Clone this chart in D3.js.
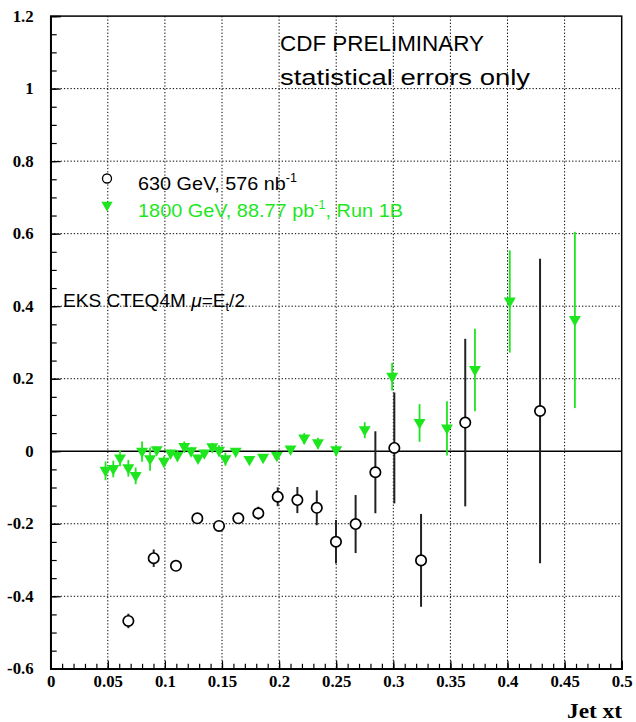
<!DOCTYPE html>
<html><head><meta charset="utf-8">
<script src="https://cdn.jsdelivr.net/npm/d3@7"></script>
<style>body{margin:0;background:#fff}svg{display:block}</style>
</head><body>
<script>
// 630 GeV, 576 nb^-1
const xt630 = [0.068,0.0902,0.1097,0.1284,0.1474,0.1643,0.1818,0.1988,0.216,0.233,0.2498,0.267,0.2843,0.3009,0.3243,0.3630,0.4285];
const val630 = [-0.468,-0.295,-0.316,-0.185,-0.206,-0.185,-0.171,-0.1255,-0.1346,-0.156,-0.2496,-0.2008,-0.058,0.009,-0.301,0.079,0.111];
const err630 = [0.02,0.024,0.01,0.012,0.01,0.01,0.018,0.026,0.036,0.048,0.06,0.08,0.113,0.153,0.128,0.231,0.42];
// 1800 GeV, 88.77 pb^-1, Run 1B
const xt1800 = [0.048,0.0548,0.0607,0.068,0.0744,0.080,0.087,0.0928,0.0992,0.105,0.111,0.117,0.1229,0.129,0.1345,0.1415,0.1474,0.153,0.162,0.174,0.186,0.198,0.210,0.222,0.234,0.250,0.275,0.299,0.323,0.347,0.3715,0.402,0.459];
const val1800 = [-0.054,-0.049,-0.0196,-0.047,-0.068,-0.001,-0.022,0.003,-0.029,-0.006,-0.013,0.012,0.000,-0.020,-0.006,0.011,0.0014,-0.022,-0.001,-0.024,-0.018,-0.013,0.005,0.035,0.022,0.003,0.058,0.2055,0.078,0.063,0.224,0.413,0.362];
const err1800 = [0.026,0.023,0.022,0.023,0.023,0.028,0.032,0.01,0.015,0.01,0.015,0.015,0.01,0.01,0.01,0.012,0.015,0.018,0.01,0.01,0.01,0.012,0.01,0.015,0.015,0.015,0.022,0.038,0.052,0.075,0.114,0.141,0.243];
const xTicks = [0,0.05,0.1,0.15,0.2,0.25,0.3,0.35,0.4,0.45,0.5];
const yTicks = [-0.6,-0.4,-0.2,0,0.2,0.4,0.6,0.8,1,1.2];
const xGrid = [0.05,0.1,0.15,0.2,0.25,0.3,0.35,0.4,0.45];
const yGrid = [-0.4,-0.2,0.2,0.4,0.6,0.8,1.0];

const W = 636, H = 722;
const green = "#1ee61e";
const svg = d3.select("body").append("svg").attr("width", W).attr("height", H);
const x = d3.scaleLinear().domain([0, 0.5]).range([50.7, 621.7]);
const y = d3.scaleLinear().domain([-0.6, 1.2]).range([668.8, 16.1]);

// grid
svg.append("g").selectAll("line").data(xGrid).join("line")
  .attr("x1", d => x(d)).attr("x2", d => x(d)).attr("y1", y(1.2)).attr("y2", y(-0.6))
  .attr("stroke", "#000").attr("stroke-width", 1).attr("stroke-dasharray", "1.3,2");
svg.append("g").selectAll("line").data(yGrid).join("line")
  .attr("x1", x(0)).attr("x2", x(0.5)).attr("y1", d => y(d)).attr("y2", d => y(d))
  .attr("stroke", "#000").attr("stroke-width", 1).attr("stroke-dasharray", "1.3,2");
// zero line
svg.append("line").attr("x1", x(0)).attr("x2", x(0.5)).attr("y1", y(0)).attr("y2", y(0))
  .attr("stroke", "#000").attr("stroke-width", 1.6);

// frame
svg.append("rect").attr("x", x(0)).attr("y", y(1.2)).attr("width", x(0.5) - x(0)).attr("height", y(-0.6) - y(1.2))
  .attr("fill", "none").attr("stroke", "#000").attr("stroke-width", 1.5);

const fmt = d => String(+d.toFixed(2));
// x axis
const gx = svg.append("g").attr("transform", `translate(0,${y(-0.6)})`)
  .call(d3.axisBottom(x).tickValues(xTicks).tickSize(-8).tickPadding(9).tickFormat(fmt));
svg.append("g").attr("transform", `translate(0,${y(-0.6)})`)
  .call(d3.axisBottom(x).tickValues(d3.range(0, 51).map(i => i / 100)).tickSize(-5).tickFormat(""))
  .call(g => g.select(".domain").remove());
// y axis
const gy = svg.append("g").attr("transform", `translate(${x(0)},0)`)
  .call(d3.axisLeft(y).tickValues(yTicks).tickSize(-10).tickPadding(17).tickFormat(d => String(+d.toFixed(1))));
svg.append("g").attr("transform", `translate(${x(0)},0)`)
  .call(d3.axisLeft(y).tickValues(d3.range(-12, 25).map(i => i * 0.05)).tickSize(-6).tickFormat(""))
  .call(g => g.select(".domain").remove());
svg.selectAll(".tick line").attr("stroke", "#000").attr("stroke-width", 1.2);
svg.selectAll(".domain").attr("stroke", "#000").attr("stroke-width", 1.5);
[gx, gy].forEach(g => g.selectAll("text")
  .attr("font-family", "'Liberation Serif', 'Times New Roman', serif")
  .attr("font-weight", "bold").attr("font-size", 16).attr("fill", "#000")
  .each(function() { const l = this.getComputedTextLength(); d3.select(this).attr("textLength", l * 1.05).attr("lengthAdjust", "spacingAndGlyphs"); }));
gx.selectAll("text").attr("dy", "0.55em");

// axis title
svg.append("text").attr("x", 622).attr("y", 718).attr("text-anchor", "end")
  .attr("font-family", "'Liberation Serif', 'Times New Roman', serif").attr("font-weight", "bold")
  .attr("font-size", 21).attr("textLength", 55).attr("lengthAdjust", "spacingAndGlyphs").text("Jet xt");

// 1800 GeV series
const g18 = svg.append("g");
g18.selectAll("line").data(xt1800.map((d, i) => [d, val1800[i], err1800[i]])).join("line")
  .attr("x1", d => x(d[0])).attr("x2", d => x(d[0]))
  .attr("y1", d => y(d[1] + d[2])).attr("y2", d => y(d[1] - d[2]))
  .attr("stroke", green).attr("stroke-width", 1.8);
const tri = d3.symbol().type(d3.symbolTriangle).size(62);
g18.selectAll("path").data(xt1800.map((d, i) => [d, val1800[i]])).join("path")
  .attr("d", tri).attr("transform", d => `translate(${x(d[0])},${y(d[1]) - 0.5}) rotate(180)`)
  .attr("fill", green);

// 630 GeV series
const g63 = svg.append("g");
g63.selectAll("line").data(xt630.map((d, i) => [d, val630[i], err630[i]])).join("line")
  .attr("x1", d => x(d[0])).attr("x2", d => x(d[0]))
  .attr("y1", d => y(d[1] + d[2])).attr("y2", d => y(d[1] - d[2]))
  .attr("stroke", "#222").attr("stroke-width", 2);
g63.selectAll("circle").data(xt630.map((d, i) => [d, val630[i]])).join("circle")
  .attr("cx", d => x(d[0])).attr("cy", d => y(d[1])).attr("r", 5.2)
  .attr("fill", "#fff").attr("stroke", "#000").attr("stroke-width", 1.7);

// texts
const sans = "'Liberation Sans', Arial, Helvetica, sans-serif";
svg.append("text").attr("x", 280).attr("y", 51).attr("font-family", sans).attr("font-size", 22)
  .attr("textLength", 204).attr("lengthAdjust", "spacingAndGlyphs").text("CDF PRELIMINARY");
svg.append("text").attr("x", 280).attr("y", 85).attr("font-family", sans).attr("font-size", 22)
  .attr("textLength", 250).attr("lengthAdjust", "spacingAndGlyphs").text("statistical errors only");

// legend
svg.append("circle").attr("cx", 107).attr("cy", 178.5).attr("r", 4.5).attr("fill", "#fff").attr("stroke", "#000").attr("stroke-width", 1.3);
svg.append("path").attr("d", d3.symbol().type(d3.symbolTriangle).size(55)).attr("transform", "translate(107,205) rotate(180)").attr("fill", green);
const t1 = svg.append("text").attr("x", 138).attr("y", 189.5).attr("font-family", sans).attr("font-size", 19).attr("fill", "#000")
  .attr("textLength", 159).attr("lengthAdjust", "spacingAndGlyphs");
t1.append("tspan").text("630 GeV, 576 nb");
t1.append("tspan").attr("dy", -8).attr("font-size", 12).text("-1");
const t2 = svg.append("text").attr("x", 138).attr("y", 216.5).attr("font-family", sans).attr("font-size", 19).attr("fill", green)
  .attr("textLength", 265).attr("lengthAdjust", "spacingAndGlyphs");
t2.append("tspan").text("1800 GeV, 88.77 pb");
t2.append("tspan").attr("dy", -8).attr("font-size", 12).text("-1");
t2.append("tspan").attr("dy", 8).text(", Run 1B");

const t3 = svg.append("text").attr("x", 63).attr("y", 307).attr("font-family", sans).attr("font-size", 18).attr("fill", "#000")
  .attr("textLength", 182).attr("lengthAdjust", "spacingAndGlyphs");
t3.append("tspan").text("EKS CTEQ4M ");
t3.append("tspan").attr("font-style", "italic").text("μ");
t3.append("tspan").text("=E");
t3.append("tspan").attr("dy", 4).attr("font-size", 12).text("t");
t3.append("tspan").attr("dy", -4).text("/2");
</script>
</body></html>
